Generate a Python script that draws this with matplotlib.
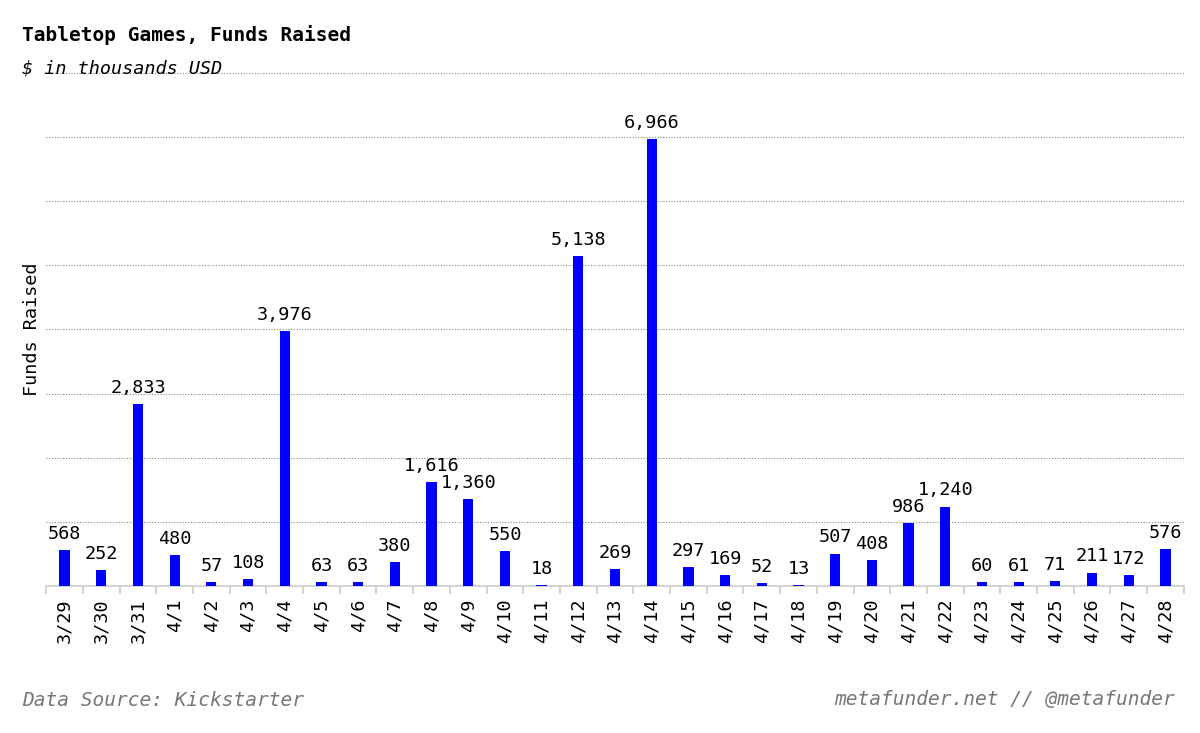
import matplotlib.pyplot as plt
import numpy as np

dates = ['3/29', '3/30', '3/31', '4/1', '4/2', '4/3', '4/4', '4/5', '4/6', '4/7',
         '4/8', '4/9', '4/10', '4/11', '4/12', '4/13', '4/14', '4/15', '4/16', '4/17',
         '4/18', '4/19', '4/20', '4/21', '4/22', '4/23', '4/24', '4/25', '4/26', '4/27',
         '4/28']
funds = [568, 252, 2833, 480, 57, 108, 3976, 63, 63, 380,
         1616, 1360, 550, 18, 5138, 269, 6966, 297, 169, 52,
         13, 507, 408, 986, 1240, 60, 61, 71, 211, 172,
         576]

plt.rcParams['font.family'] = ['DejaVu Sans Mono']

fig = plt.figure(figsize=(12, 7.33), dpi=100)
ax = fig.add_axes([0.0385, 0.2005, 0.948, 0.7])

x = np.arange(len(dates))
ax.bar(x, funds, width=0.28, color='#0000ff', zorder=3)
for xi, v in zip(x, funds):
    ax.text(xi, v + 110, f'{v:,}', ha='center', va='bottom', fontsize=13.3, color='black', zorder=4)

ax.set_xlim(-0.5, len(dates) - 0.5)
ax.set_ylim(0, 8000)
ax.set_yticks(np.arange(1000, 8001, 1000))
ax.yaxis.grid(True, linestyle=(0, (1, 1.5)), color='#888888', linewidth=0.8, zorder=0)
ax.tick_params(axis='y', length=0, labelleft=False)

ax.set_xticks(x)
ax.set_xticklabels(dates, rotation=90, fontsize=13.3)
ax.tick_params(axis='x', length=0, pad=9)
ax.set_xticks(np.arange(-0.5, len(dates), 1), minor=True)
ax.tick_params(axis='x', which='minor', length=6, color='#cccccc', width=1.2)

for s in ['top', 'right', 'left']:
    ax.spines[s].set_visible(False)
ax.spines['bottom'].set_color('#cccccc')
ax.spines['bottom'].set_linewidth(1.2)

ax.set_ylabel('Funds Raised', fontsize=13.3, labelpad=4)

fig.text(22 / 1200, 1 - 35 / 733, 'Tabletop Games, Funds Raised', fontsize=14, fontweight='bold', va='center')
fig.text(22 / 1200, 1 - 68 / 733, '$ in thousands USD', fontsize=13.3, style='italic', va='center')
fig.text(22 / 1200, 1 - 700 / 733, 'Data Source: Kickstarter', fontsize=14, style='italic',
         color='#777777', va='center')
fig.text(1175 / 1200, 1 - 700 / 733, 'metafunder.net // @metafunder', fontsize=14, style='italic',
         color='#777777', va='center', ha='right')

fig.savefig('out.png', dpi=100)
